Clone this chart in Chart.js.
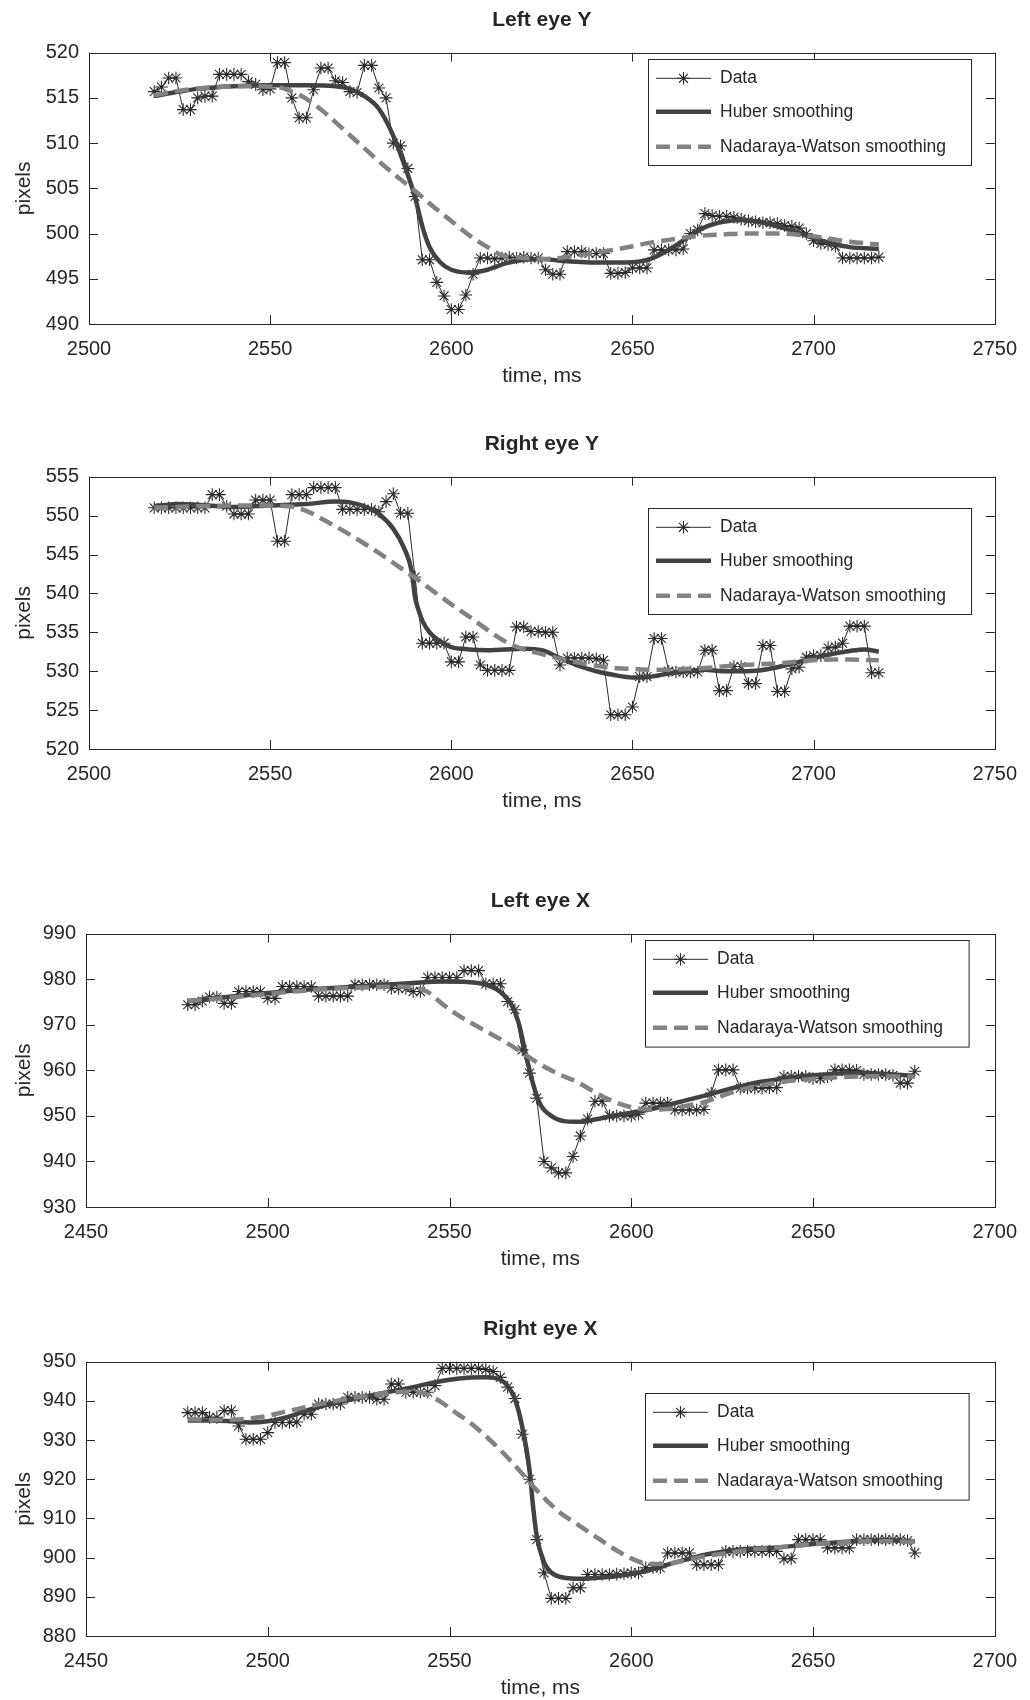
<!DOCTYPE html>
<html>
<head>
<meta charset="utf-8">
<title>Eye position smoothing</title>
<script src="https://cdn.jsdelivr.net/npm/chart.js@4.4.1/dist/chart.umd.min.js"></script>
<style>
  html, body { margin: 0; padding: 0; background: #ffffff; width: 1030px; height: 1700px; overflow: hidden; }
  canvas { position: absolute; left: 0; display: block; }
</style>
</head>
<body>
<canvas id="leftY"></canvas>
<canvas id="rightY"></canvas>
<canvas id="leftX"></canvas>
<canvas id="rightX"></canvas>
<script>
// ---- sample times (ms) ----
const timeVert = [2518,2520,2522,2524,2526,2528,2530,2532,2534,2536,2538,2540,2542,2544,2546,2548,2550,2552,2554,2556,2558,2560,2562,2564,2566,2568,2570,2572,2574,2576,2578,2580,2582,2584,2586,2588,2590,2592,2594,2596,2598,2600,2602,2604,2606,2608,2610,2612,2614,2616,2618,2620,2622,2624,2626,2628,2630,2632,2634,2636,2638,2640,2642,2644,2646,2648,2650,2652,2654,2656,2658,2660,2662,2664,2666,2668,2670,2672,2674,2676,2678,2680,2682,2684,2686,2688,2690,2692,2694,2696,2698,2700,2702,2704,2706,2708,2710,2712,2714,2716,2718];
const timeHorz = [2478,2480,2482,2484,2486,2488,2490,2492,2494,2496,2498,2500,2502,2504,2506,2508,2510,2512,2514,2516,2518,2520,2522,2524,2526,2528,2530,2532,2534,2536,2538,2540,2542,2544,2546,2548,2550,2552,2554,2556,2558,2560,2562,2564,2566,2568,2570,2572,2574,2576,2578,2580,2582,2584,2586,2588,2590,2592,2594,2596,2598,2600,2602,2604,2606,2608,2610,2612,2614,2616,2618,2620,2622,2624,2626,2628,2630,2632,2634,2636,2638,2640,2642,2644,2646,2648,2650,2652,2654,2656,2658,2660,2662,2664,2666,2668,2670,2672,2674,2676,2678];

// ---- Left eye Y ----
const leftYData = [515.7,516.2,517.2,517.2,513.7,513.7,515.0,515.2,515.2,517.6,517.6,517.6,517.6,516.8,516.5,515.9,516.0,518.9,518.9,515.0,512.8,512.8,515.9,518.3,518.3,516.9,516.7,515.7,515.6,518.6,518.6,516.1,515.0,510.0,509.7,507.2,504.1,497.1,497.1,494.6,493.1,491.6,491.6,493.2,495.5,497.3,497.3,497.2,497.3,497.4,497.3,497.4,497.3,497.3,496.0,495.5,495.5,498.0,498.0,498.0,497.8,497.8,497.8,495.6,495.6,495.7,496.2,496.2,496.2,498.2,498.2,498.2,498.2,498.3,500.0,500.4,502.2,502.0,501.9,501.9,501.8,501.6,501.4,501.3,501.2,501.2,501.1,500.9,500.8,500.6,500.0,499.2,498.9,498.8,498.6,497.3,497.3,497.3,497.3,497.3,497.4];
const leftYHuberT = [2518,2525,2530,2540,2550,2560,2568,2572,2576,2580,2584,2588,2590,2592,2594,2597,2600,2605,2610,2615,2620,2625,2630,2640,2648,2655,2660,2665,2670,2675,2680,2685,2690,2695,2700,2705,2710,2718];
const leftYHuber = [515.2,515.7,516.0,516.3,516.4,516.4,516.3,516.0,515.2,513.8,510.8,506.5,504.0,500.8,498.5,496.8,496.0,495.7,496.0,496.7,497.1,497.2,497.0,496.8,496.8,497.2,498.2,499.5,500.7,501.3,501.5,501.3,500.8,500.2,499.5,498.9,498.5,498.3];
const leftYNwT = [2518,2525,2535,2545,2552,2556,2560,2565,2570,2575,2580,2585,2590,2595,2600,2605,2610,2614,2620,2625,2630,2635,2640,2645,2650,2655,2660,2665,2670,2675,2680,2685,2690,2695,2700,2705,2710,2718];
const leftYNw = [515.3,515.8,516.2,516.3,516.2,515.7,514.9,513.4,511.6,509.8,508.0,506.3,504.7,503.0,501.4,499.8,498.5,497.6,497.3,497.2,497.3,497.6,497.9,498.2,498.6,499.0,499.3,499.6,499.8,499.9,500.0,500.0,500.0,499.9,499.7,499.4,499.1,498.8];

// ---- Right eye Y ----
const rightYData = [551.0,551.0,551.0,551.0,551.0,551.0,551.0,551.0,552.7,552.7,551.2,550.2,550.2,550.2,552.0,552.0,552.0,546.7,546.7,552.7,552.7,552.7,553.6,553.6,553.6,553.6,550.8,550.8,550.8,550.8,550.8,550.5,551.8,552.8,550.3,550.3,542.1,533.6,533.6,533.6,533.6,531.2,531.2,534.4,534.4,530.8,530.1,530.1,530.1,530.1,535.7,535.7,535.1,535.1,535.0,535.0,530.8,531.7,531.7,531.7,531.7,531.6,531.4,524.4,524.4,524.4,525.4,529.3,529.3,534.2,534.2,530.0,529.9,529.9,529.9,529.9,532.7,532.7,527.5,527.5,530.6,530.6,528.4,528.4,533.3,533.3,527.4,527.4,530.3,530.5,531.8,532.0,532.0,533.0,533.1,533.6,535.8,535.8,535.8,529.8,529.8];
const rightYHuberT = [2518,2525,2530,2540,2550,2560,2568,2572,2576,2580,2584,2587,2589,2590,2591,2592,2594,2597,2600,2605,2610,2620,2625,2630,2635,2640,2645,2650,2655,2660,2665,2670,2675,2680,2685,2690,2695,2700,2705,2710,2714,2718];
const rightYHuber = [551.2,551.5,551.4,551.1,551.3,551.5,551.8,551.7,551.2,550.2,548.3,545.8,543.0,539.5,537.8,536.5,535.0,533.8,533.1,532.8,532.7,532.9,532.7,531.7,530.7,530.0,529.5,529.2,529.3,529.7,530.0,530.2,530.0,530.0,530.1,530.5,531.1,531.7,532.2,532.6,532.8,532.5];
const rightYNwT = [2518,2530,2545,2555,2560,2565,2570,2575,2580,2585,2590,2595,2600,2605,2610,2615,2620,2625,2630,2635,2640,2645,2650,2655,2660,2665,2670,2675,2680,2685,2690,2695,2700,2705,2710,2718];
const rightYNw = [551.0,551.2,551.3,551.2,550.6,549.4,548.1,546.7,545.2,543.6,542.0,540.3,538.6,537.0,535.3,533.8,532.8,532.2,531.6,531.1,530.7,530.4,530.3,530.2,530.2,530.3,530.4,530.6,530.8,530.9,531.0,531.2,531.4,531.5,531.5,531.4];

// ---- Left eye X ----
const leftXData = [974.4,974.4,975.2,976.1,976.1,974.7,974.7,977.3,977.3,977.3,977.3,975.8,975.8,978.4,978.4,978.4,978.4,978.4,976.3,976.3,976.3,976.3,976.3,978.8,978.8,978.8,978.8,978.8,978.0,978.0,978.0,977.3,977.3,980.4,980.4,980.4,980.4,980.4,981.9,981.9,981.9,979.0,979.0,979.0,975.1,973.3,964.5,959.4,953.9,940.0,938.6,937.5,937.5,941.1,945.6,949.3,953.2,953.2,950.0,950.0,950.0,950.0,950.4,952.8,952.8,952.8,952.8,951.3,951.3,951.3,951.3,951.4,955.0,960.1,960.1,960.1,956.1,956.1,956.1,956.1,956.2,956.2,958.7,958.7,958.7,958.7,958.2,958.2,958.6,960.1,960.1,960.1,960.0,959.1,959.1,959.1,959.1,958.9,957.2,957.2,959.8];
const leftXHuberT = [2478,2490,2500,2510,2520,2530,2540,2548,2555,2560,2564,2567,2569,2571,2573,2575,2578,2582,2586,2590,2595,2600,2605,2610,2615,2620,2625,2630,2635,2640,2645,2650,2655,2660,2665,2670,2678];
const leftXHuber = [975.2,976.2,977.0,977.7,978.2,978.7,979.2,979.5,979.4,978.8,977.2,974.5,970.5,963.5,957.0,952.5,950.0,948.8,948.7,949.2,950.0,950.7,951.4,952.4,953.4,954.4,955.5,956.5,957.4,958.0,958.5,958.9,959.2,959.4,959.4,959.2,958.8];
const leftXNwT = [2478,2490,2500,2510,2520,2530,2536,2540,2544,2548,2552,2556,2560,2565,2570,2575,2580,2585,2590,2595,2600,2605,2610,2615,2620,2625,2630,2635,2640,2645,2650,2655,2660,2665,2670,2678];
const leftXNw = [975.3,976.0,976.8,977.5,978.0,978.3,978.4,978.2,977.2,974.6,972.3,970.4,968.6,966.4,963.9,961.3,959.2,957.5,955.2,953.2,951.9,951.4,951.5,952.2,953.0,954.4,955.7,956.6,957.3,957.8,958.1,958.4,958.6,958.7,958.7,958.6];

// ---- Right eye X ----
const rightXData = [937.0,937.0,937.0,935.8,935.8,937.5,937.5,933.6,930.2,930.2,930.2,931.9,934.5,934.5,934.5,934.6,936.6,936.6,939.2,939.2,939.2,939.2,940.9,940.9,940.9,940.9,940.4,940.4,944.3,944.3,942.2,942.2,942.2,942.2,943.9,948.3,948.3,948.3,948.3,948.3,948.3,948.0,947.5,946.0,943.5,940.6,931.5,920.0,904.6,896.1,889.6,889.6,889.6,892.3,892.3,895.7,895.7,895.7,895.7,895.8,895.9,896.1,896.1,897.4,897.4,897.4,901.2,901.2,901.2,901.2,898.2,898.2,898.2,898.2,901.6,901.6,901.6,901.6,901.6,901.6,901.6,901.6,899.7,899.7,904.6,904.6,904.6,904.6,902.5,902.5,902.5,902.5,904.6,904.6,904.6,904.6,904.6,904.6,904.6,904.3,901.2];
const rightXHuberT = [2478,2485,2490,2495,2500,2505,2510,2515,2520,2525,2530,2535,2540,2545,2550,2555,2560,2564,2566,2568,2570,2572,2573,2574,2576,2578,2582,2586,2590,2595,2600,2605,2610,2615,2620,2625,2630,2635,2640,2645,2650,2655,2660,2665,2670,2678];
const rightXHuber = [935.0,935.0,934.8,934.5,934.8,935.8,937.3,938.7,939.8,940.8,941.7,942.6,943.5,944.6,945.4,945.9,946.0,945.4,943.8,940.5,933.5,922.5,913.0,905.5,898.8,896.2,894.8,894.6,894.8,895.2,895.8,896.8,898.2,899.5,900.7,901.5,902.1,902.4,902.6,903.0,903.5,903.8,904.1,904.4,904.5,904.1];
const rightXNwT = [2478,2485,2490,2495,2500,2505,2510,2515,2520,2525,2530,2535,2540,2544,2548,2552,2556,2560,2565,2570,2575,2580,2585,2590,2595,2600,2605,2610,2615,2620,2625,2630,2635,2640,2645,2650,2655,2660,2665,2670,2678];
const rightXNw = [935.3,935.2,935.2,935.5,936.2,937.3,938.3,939.3,940.2,941.0,941.7,942.2,942.4,941.6,939.5,936.8,934.2,931.0,926.5,921.4,916.2,911.8,908.6,905.5,902.4,899.8,898.4,898.5,899.3,900.3,901.0,901.7,902.2,902.6,903.0,903.4,903.7,904.0,904.2,904.2,904.0];

// ---- axis tick ranges ----
const xTicksVert = [2500, 2750, 50];
const xTicksHorz = [2450, 2700, 50];
const yTicksLeftY = [490, 520, 5];
const yTicksRightY = [520, 555, 5];
const yTicksLeftX = [930, 990, 10];
const yTicksRightX = [880, 950, 10];

const seriesLabels = ['Data', 'Huber smoothing', 'Nadaraya-Watson smoothing'];

// ---- styling ----
const FONT = '"Liberation Sans", Arial, Helvetica, sans-serif';
const INK = '#262626';
const DATA_COLOR = '#2a2a2a';
const HUBER_COLOR = '#424242';
const NW_COLOR = '#828282';
const TITLE_BLOCK = 52.7;   // space above the plot box
const XAXIS_BLOCK = 68;     // space below the plot box

Chart.defaults.font.family = FONT;
Chart.defaults.color = INK;

function pairs(xs, ys) { return xs.map((x, i) => ({ x: x, y: ys[i] })); }

// box around the axes with inward ticks on all four sides
const framePlugin = {
  id: 'frameBox',
  beforeDatasetsDraw(chart) {
    const { ctx, chartArea: a, scales } = chart;
    const L = 9;
    ctx.save();
    ctx.strokeStyle = INK;
    ctx.lineWidth = 1;
    ctx.beginPath();
    scales.x.ticks.forEach(t => {
      const px = Math.round(scales.x.getPixelForValue(t.value)) + 0.5;
      ctx.moveTo(px, a.bottom); ctx.lineTo(px, a.bottom - L);
      ctx.moveTo(px, a.top); ctx.lineTo(px, a.top + L);
    });
    scales.y.ticks.forEach(t => {
      const py = Math.round(scales.y.getPixelForValue(t.value)) + 0.5;
      ctx.moveTo(a.left, py); ctx.lineTo(a.left + L, py);
      ctx.moveTo(a.right, py); ctx.lineTo(a.right - L, py);
    });
    ctx.stroke();
    ctx.strokeRect(Math.round(a.left) + 0.5, Math.round(a.top) + 0.5,
                   Math.round(a.right - a.left), Math.round(a.bottom - a.top));
    ctx.restore();
  }
};

// boxed legend drawn inside the plot area
const boxLegendPlugin = {
  id: 'boxLegend',
  afterDraw(chart, args, opts) {
    const { ctx, chartArea: a } = chart;
    const x0 = Math.round(a.right - opts.fromRight);
    const y0 = Math.round(a.top + opts.fromTop);
    ctx.save();
    ctx.fillStyle = '#ffffff';
    ctx.fillRect(x0, y0, opts.width, opts.height);
    ctx.strokeStyle = INK;
    ctx.lineWidth = 1;
    ctx.strokeRect(x0 + 0.5, y0 + 0.5, opts.width, opts.height);
    const rows = [19.3, 52.7, 87.7];
    chart.data.datasets.forEach((ds, i) => {
      const cy = y0 + rows[i];
      ctx.strokeStyle = ds.borderColor;
      ctx.lineWidth = ds.borderWidth;
      ctx.lineCap = 'butt';
      ctx.setLineDash(ds.borderDash || []);
      ctx.beginPath();
      ctx.moveTo(x0 + 8, cy);
      ctx.lineTo(x0 + 63, cy);
      ctx.stroke();
      ctx.setLineDash([]);
      if (ds.pointRadius > 0) {
        ctx.strokeStyle = ds.pointBorderColor;
        ctx.lineWidth = ds.pointBorderWidth;
        Chart.helpers.drawPoint(ctx, { pointStyle: ds.pointStyle, radius: ds.pointRadius, borderWidth: ds.pointBorderWidth, rotation: 0 }, x0 + 35.5, cy);
      }
      ctx.fillStyle = INK;
      ctx.font = '17.5px ' + FONT;
      ctx.textBaseline = 'middle';
      ctx.textAlign = 'left';
      ctx.fillText(ds.label, x0 + 72, cy);
    });
    ctx.restore();
  }
};

function makePanel(cfg) {
  const canvas = document.getElementById(cfg.id);
  const h = Math.round(TITLE_BLOCK + (cfg.plotBottom - cfg.plotTop) + XAXIS_BLOCK);
  canvas.width = 1030;
  canvas.height = h;
  canvas.style.top = (cfg.plotTop - TITLE_BLOCK) + 'px';
  canvas.style.width = '1030px';
  canvas.style.height = h + 'px';

  return new Chart(canvas, {
    type: 'scatter',
    data: {
      datasets: [
        {
          label: seriesLabels[0],
          data: pairs(cfg.time, cfg.data),
          showLine: true,
          borderColor: DATA_COLOR,
          borderWidth: 1,
          tension: 0,
          pointStyle: 'star',
          pointRadius: 6.3,
          pointBorderColor: DATA_COLOR,
          pointBackgroundColor: 'rgba(0,0,0,0)',
          pointBorderWidth: 1.1,
          order: 3
        },
        {
          label: seriesLabels[1],
          data: pairs(cfg.huberT, cfg.huber),
          showLine: true,
          borderColor: HUBER_COLOR,
          borderWidth: 4.5,
          cubicInterpolationMode: 'monotone',
          pointRadius: 0,
          order: 2
        },
        {
          label: seriesLabels[2],
          data: pairs(cfg.nwT, cfg.nw),
          showLine: true,
          borderColor: NW_COLOR,
          borderWidth: 4.5,
          borderDash: [14, 7],
          borderCapStyle: 'butt',
          cubicInterpolationMode: 'monotone',
          pointRadius: 0,
          order: 1
        }
      ]
    },
    options: {
      responsive: false,
      animation: false,
      devicePixelRatio: 1,
      events: [],
      layout: { padding: { left: 0, right: 1030 - cfg.right, top: 0, bottom: 0 } },
      plugins: {
        legend: { display: false },
        tooltip: { enabled: false },
        title: {
          display: true,
          text: cfg.title,
          fullSize: false,
          color: INK,
          font: { size: 21, weight: 'bold', family: FONT },
          padding: { top: 7.4, bottom: 20.1 }
        },
        boxLegend: cfg.legend
      },
      scales: {
        x: {
          type: 'linear',
          min: cfg.xTicks[0],
          max: cfg.xTicks[1],
          grid: { display: false, drawTicks: false },
          border: { display: false },
          ticks: {
            stepSize: cfg.xTicks[2],
            padding: 13,
            color: INK,
            font: { size: 20 },
            maxRotation: 0,
            autoSkip: false,
            callback: v => String(v)
          },
          title: {
            display: true,
            text: 'time, ms',
            color: INK,
            font: { size: 21 },
            padding: { top: 0, bottom: 3.4 }
          },
          afterFit(scale) { scale.height = XAXIS_BLOCK; }
        },
        y: {
          type: 'linear',
          min: cfg.yTicks[0],
          max: cfg.yTicks[1],
          grid: { display: false, drawTicks: false },
          border: { display: false },
          ticks: {
            stepSize: cfg.yTicks[2],
            padding: 10,
            color: INK,
            font: { size: 20 },
            callback: v => String(v)
          },
          title: {
            display: true,
            text: 'pixels',
            color: INK,
            font: { size: 21 },
            padding: { top: 11.4, bottom: 0 }
          },
          afterFit(scale) { scale.width = cfg.left; }
        }
      }
    },
    plugins: [framePlugin, boxLegendPlugin]
  });
}

makePanel({
  id: 'leftY', title: 'Left eye Y',
  plotTop: 52.7, plotBottom: 324, left: 89, right: 998,
  time: timeVert, data: leftYData,
  huberT: leftYHuberT, huber: leftYHuber, nwT: leftYNwT, nw: leftYNw,
  xTicks: xTicksVert, yTicks: yTicksLeftY,
  legend: { fromRight: 347, fromTop: 6.3, width: 323, height: 106 }
});
makePanel({
  id: 'rightY', title: 'Right eye Y',
  plotTop: 476.7, plotBottom: 748.7, left: 89, right: 998,
  time: timeVert, data: rightYData,
  huberT: rightYHuberT, huber: rightYHuber, nwT: rightYNwT, nw: rightYNw,
  xTicks: xTicksVert, yTicks: yTicksRightY,
  legend: { fromRight: 347, fromTop: 31.6, width: 323, height: 106 }
});
makePanel({
  id: 'leftX', title: 'Left eye X',
  plotTop: 934, plotBottom: 1207, left: 86, right: 1002,
  time: timeHorz, data: leftXData,
  huberT: leftXHuberT, huber: leftXHuber, nwT: leftXNwT, nw: leftXNw,
  xTicks: xTicksHorz, yTicks: yTicksLeftX,
  legend: { fromRight: 349.6, fromTop: 6.7, width: 323.6, height: 106.6 }
});
makePanel({
  id: 'rightX', title: 'Right eye X',
  plotTop: 1362, plotBottom: 1636, left: 86, right: 1002,
  time: timeHorz, data: rightXData,
  huberT: rightXHuberT, huber: rightXHuber, nwT: rightXNwT, nw: rightXNw,
  xTicks: xTicksHorz, yTicks: yTicksRightX,
  legend: { fromRight: 349.6, fromTop: 31.3, width: 323.6, height: 106.6 }
});
</script>
</body>
</html>
